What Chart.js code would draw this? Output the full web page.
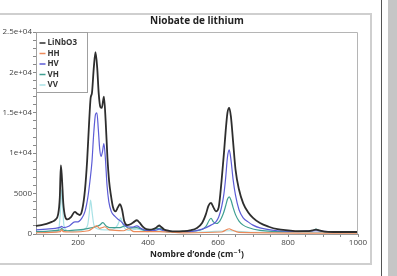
<!DOCTYPE html>
<html>
<head>
<meta charset="utf-8">
<script src="https://cdn.jsdelivr.net/npm/chart.js@4"></script>
<style>
  html, body { margin:0; padding:0; background:#fff; }
  body { width:397px; height:276px; position:relative; overflow:hidden; }
  #panel { position:absolute; left:-3px; top:13px; width:371px; height:248px; border:2px solid #cfcfcf; }
  #sep { position:absolute; left:381px; top:0; width:1px; height:276px; background:#555; }
  #side { position:absolute; left:388px; top:0; width:9px; height:276px; background:#c6c6c6; }
  #myChart { position:absolute; left:0; top:0; }
</style>
</head>
<body>
<div id="panel"></div>
<div id="sep"></div>
<div id="side"></div>
<canvas id="myChart" width="397" height="276"></canvas>
<script>
// spectres Raman (nombre d'onde en cm-1, intensite)
var liWave = [80,95,110,125,135,143,148,151,154,158,163,170,180,191,198,205,212,220,226,232,236,240,245,250,255,259,264,268,274,279,284,289,294,300,307,314,320,326,332,340,350,360,368,376,385,395,405,415,422,428,432,437,445,460,480,500,520,540,555,565,573,580,587,594,602,610,617,622,627,632,637,643,650,660,672,686,700,720,745,770,800,830,855,870,880,890,905,930,960,1000];
var liInt = [1000,1100,1250,1500,1750,2400,4500,8500,7000,3800,2200,1800,2100,2750,2500,2350,3000,5500,9000,14000,16800,17500,20500,22500,20500,17500,15700,15600,17000,14000,9500,6500,4800,3300,2800,3300,3700,3000,1600,1100,1200,1500,1700,1400,900,600,550,620,750,950,1050,900,600,400,320,350,450,750,1400,2400,3500,3850,3300,2800,3300,6500,10000,12800,15000,15600,14500,11500,8000,5500,3800,2700,2000,1350,900,600,450,350,350,450,550,450,300,250,250,250];

var hhWave = [80,150,153,158,175,230,245,253,262,270,276,290,330,345,360,432,500,610,625,632,640,660,1000];
var hhInt = [150,300,550,300,250,400,800,1000,700,800,900,500,400,650,300,300,150,250,550,650,500,200,100];

var hvWave = [80,110,135,150,153,158,175,191,200,210,220,228,234,240,245,250,254,258,262,266,270,274,278,283,288,295,305,315,322,330,340,355,368,380,395,420,432,445,480,520,555,580,594,602,610,617,622,627,632,637,643,650,660,672,686,700,720,770,830,880,930,1000];
var hvInt = [500,600,700,850,950,800,1000,1500,1500,1900,2800,4500,6500,9000,12500,14800,15000,13000,10500,9600,10200,11200,9500,6000,4000,2800,2200,1800,1600,1200,900,850,1000,700,450,450,600,400,300,300,600,1100,1500,2100,3300,5000,7000,9500,10400,9200,6800,4800,3000,2000,1500,1100,750,400,300,400,250,250];

var vhWave = [80,150,153,158,170,200,230,250,262,271,280,290,320,334,345,368,395,432,460,540,565,575,580,587,595,605,615,622,627,632,637,643,650,660,672,686,720,800,870,880,890,930,1000];
var vhInt = [300,500,700,500,400,500,700,900,1100,1400,1000,800,800,1000,700,800,400,700,300,400,900,1700,1950,1500,1300,1600,2500,3500,4300,4600,4200,3300,2400,1600,1100,800,450,300,400,600,400,250,250];

var vvWave = [80,140,146,150,153,156,160,170,185,205,222,228,232,236,240,245,252,265,290,305,313,318,322,326,332,345,368,400,432,460,560,632,700,1000];
var vvInt = [200,300,900,3000,5500,3500,1000,400,300,400,700,1200,2500,4200,2800,1200,700,550,500,700,1100,1600,2000,1500,800,450,600,300,500,200,250,400,200,200];

var seriesNames = ['LiNbO3','HH','HV','VH','VV'];
var seriesColors = ['#2e2e2e','#ec8a5a','#5c5cd6','#3f9f92','#a9e2e6'];

// graduations
var xTickValues = [100,150,200,250,300,350,400,450,500,550,600,650,700,750,800,850,900,950,1000];
var xTickLabels = [200,400,600,800,1000];
var yTickValues = [0,5000,10000,15000,20000,25000];
var yTickText = ['0','5000','1e+04','1.5e+04','2e+04','2.5e+04'];

var FONT = '"Open Sans", "DejaVu Sans", sans-serif';

var toPoints = function(xs, ys){
  var pts = [];
  for (var i = 0; i < xs.length; i++) pts.push({x: xs[i], y: ys[i]});
  return pts;
};
var allWave = [liWave, hhWave, hvWave, vhWave, vvWave];
var allInt = [liInt, hhInt, hvInt, vhInt, vvInt];

var datasets = [];
for (var i = 0; i < seriesNames.length; i++) {
  datasets.push({
    label: seriesNames[i],
    data: toPoints(allWave[i], allInt[i]),
    borderColor: seriesColors[i],
    borderWidth: i == 0 ? 1.8 : 1.2,
    pointRadius: 0,
    fill: false,
    cubicInterpolationMode: 'monotone'
  });
}

// cadre du graphe + legende dans la zone de trace
var framePlugin = {
  id: 'frame',
  afterDatasetsDraw: function(chart){
    var c = chart.ctx, a = chart.chartArea;
    c.save();
    c.strokeStyle = '#b5b5b5';
    c.lineWidth = 1;
    c.beginPath();
    c.moveTo(a.left, a.top + 0.5);
    c.lineTo(a.right - 0.5, a.top + 0.5);
    c.lineTo(a.right - 0.5, a.bottom);
    c.stroke();
    // legende
    var lx = a.left + 0.5, ly = a.top + 0.5, lw = 51, lh = 60;
    c.fillStyle = '#fff';
    c.fillRect(lx, ly, lw, lh);
    c.strokeStyle = '#a0a0a0';
    c.strokeRect(lx, ly, lw, lh);
    c.font = 'bold 8px ' + FONT;
    c.textBaseline = 'middle';
    for (var i = 0; i < seriesNames.length; i++) {
      var yy = ly + 10.5 + i * 10.5;
      c.strokeStyle = seriesColors[i];
      c.lineWidth = 1.5;
      c.beginPath();
      c.moveTo(lx + 3, yy);
      c.lineTo(lx + 9, yy);
      c.stroke();
      c.fillStyle = '#333';
      c.fillText(seriesNames[i], lx + 11, yy);
    }
    c.restore();
  }
};

new Chart(document.getElementById('myChart'), {
  type: 'line',
  data: { datasets: datasets },
  options: {
    responsive: false,
    devicePixelRatio: 1,
    animation: false,
    layout: { padding: { left: 0, right: 39, top: 0, bottom: 0 } },
    plugins: {
      legend: { display: false },
      tooltip: { enabled: false },
      title: {
        display: true,
        text: 'Niobate de lithium',
        fullSize: false,
        color: '#222',
        font: { family: FONT, size: 10, weight: 'bold' },
        padding: { top: 15, bottom: 5 }
      }
    },
    scales: {
      x: {
        type: 'linear',
        min: 80,
        max: 1000,
        afterFit: function(s){ s.height = 42; },
        afterBuildTicks: function(s){ s.ticks = xTickValues.map(function(v){ return {value: v}; }); },
        grid: { drawOnChartArea: false, tickLength: 3, color: '#888' },
        border: { color: '#999' },
        ticks: {
          autoSkip: false, maxRotation: 0, padding: 1,
          color: '#444',
          font: { family: FONT, size: 8 },
          callback: function(v){ return xTickLabels.indexOf(v) >= 0 ? String(v) : ''; }
        },
        title: {
          display: true,
          text: 'Nombre d\u2019onde (cm\u207B\u00B9)',
          color: '#222',
          font: { family: FONT, size: 8.5, weight: 'bold' },
          padding: { top: 0, bottom: 16 }
        }
      },
      y: {
        min: 0,
        max: 25000,
        afterFit: function(s){ s.width = 36; },
        afterBuildTicks: function(s){
          var t = [];
          for (var v = 0; v <= 25000; v += 1000) t.push({value: v});
          s.ticks = t;
        },
        grid: { drawOnChartArea: false, tickLength: 3, color: '#888' },
        border: { color: '#999' },
        ticks: {
          autoSkip: false, padding: 1,
          color: '#444',
          font: { family: FONT, size: 8 },
          callback: function(v){
            var k = yTickValues.indexOf(v);
            return k >= 0 ? yTickText[k] : '';
          }
        }
      }
    }
  },
  plugins: [framePlugin]
});
</script>
</body>
</html>
